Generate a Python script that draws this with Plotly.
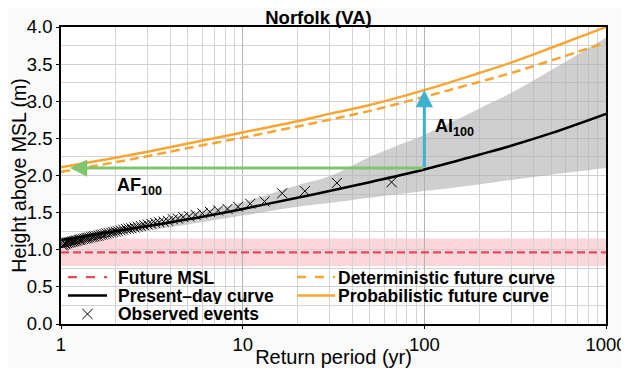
import math
import plotly.graph_objects as go

# ---------------- data ----------------
rp_grid = [1, 2, 3, 5, 10, 20, 30, 50, 100, 200, 300, 500, 1000]
present_day = [1.13, 1.25, 1.32, 1.41, 1.55, 1.70, 1.79, 1.91, 2.08, 2.28, 2.40, 2.57, 2.83]
present_lower = [1.10, 1.20, 1.26, 1.34, 1.46, 1.58, 1.63, 1.70, 1.79, 1.88, 1.94, 2.01, 2.10]
present_upper = [1.16, 1.28, 1.37, 1.48, 1.64, 1.87, 1.99, 2.25, 2.55, 2.90, 3.11, 3.42, 3.86]
probabilistic_future = [2.11, 2.24, 2.32, 2.43, 2.58, 2.73, 2.83, 2.95, 3.15, 3.38, 3.52, 3.72, 4.00]
deterministic_future = [2.05, 2.18, 2.26, 2.37, 2.51, 2.66, 2.75, 2.87, 3.06, 3.26, 3.38, 3.55, 3.79]

future_msl = 0.965
future_msl_low = 0.78
future_msl_high = 1.15

obs_rp = [66.0, 33.0, 22.0, 16.5, 13.2, 11.0, 9.43, 8.25, 7.33, 6.60, 6.00, 5.50, 5.08,
          4.71, 4.40, 4.13, 3.88, 3.67, 3.47, 3.30, 3.14, 3.00, 2.87, 2.75, 2.64, 2.54,
          2.44, 2.36, 2.28, 2.20, 2.13, 2.06, 2.00, 1.94, 1.89, 1.83, 1.78, 1.74, 1.69,
          1.65, 1.61, 1.57, 1.53, 1.50, 1.47, 1.43, 1.40, 1.38, 1.35, 1.32, 1.29, 1.27,
          1.25, 1.22, 1.20, 1.18, 1.16, 1.14, 1.12, 1.10, 1.08, 1.06, 1.05, 1.03, 1.02]
obs_height = [1.91, 1.90, 1.79, 1.76, 1.65, 1.62, 1.58, 1.55, 1.53, 1.51, 1.49, 1.47, 1.45,
              1.44, 1.42, 1.41, 1.39, 1.38, 1.37, 1.36, 1.35, 1.34, 1.33, 1.32, 1.31, 1.30,
              1.29, 1.285, 1.28, 1.27, 1.26, 1.25, 1.245, 1.24, 1.23, 1.225, 1.22, 1.21, 1.205,
              1.20, 1.19, 1.185, 1.18, 1.175, 1.17, 1.165, 1.16, 1.155, 1.15, 1.145, 1.14, 1.135,
              1.13, 1.125, 1.12, 1.115, 1.11, 1.105, 1.10, 1.095, 1.09, 1.085, 1.08, 1.07, 1.06]

ref_rp = 100
ref_present = 2.09
ref_future = 3.15
af_rp = 1.12  # return period reached by the future curve at present 100-yr level

x_ticks = [1, 10, 100, 1000]
x_ticktext = ["1", "10", "100", "1000"]
y_ticks = [0.0, 0.5, 1.0, 1.5, 2.0, 2.5, 3.0, 3.5, 4.0]
y_ticktext = ["0.0", "0.5", "1.0", "1.5", "2.0", "2.5", "3.0", "3.5", "4.0"]

legend_labels = ["Future MSL", "Deterministic future curve", "Present\u2013day curve",
                 "Probabilistic future curve", "Observed events"]

# ---------------- colors ----------------
ORANGE = "#f7a533"
RED = "#e8475b"
GREEN = "#80c46c"
BLUE = "#3db2cf"
FONT = "Liberation Sans, Arial, sans-serif"

fig = go.Figure()

# future MSL band
fig.add_shape(type="rect", xref="paper", yref="y", x0=0, x1=1,
              y0=future_msl_low, y1=future_msl_high,
              fillcolor="rgba(238,120,135,0.30)", line_width=0, layer="below")

# confidence band of present-day curve
fig.add_trace(go.Scatter(x=rp_grid, y=present_upper, mode="lines", line=dict(width=0, shape="spline"),
                         showlegend=False, hoverinfo="skip"))
fig.add_trace(go.Scatter(x=rp_grid, y=present_lower, mode="lines", line=dict(width=0, shape="spline"),
                         fill="tonexty", fillcolor="rgba(175,175,175,0.6)",
                         showlegend=False, hoverinfo="skip"))

fig.add_trace(go.Scatter(x=[rp_grid[0], rp_grid[-1]], y=[future_msl, future_msl], mode="lines",
                         line=dict(color=RED, width=2.2, dash="8px,4px"), name=legend_labels[0],
                         showlegend=False))
fig.add_trace(go.Scatter(x=rp_grid, y=deterministic_future, mode="lines",
                         line=dict(color=ORANGE, width=2.5, dash="9px,5px", shape="spline"),
                         name=legend_labels[1], showlegend=False))
fig.add_trace(go.Scatter(x=rp_grid, y=present_day, mode="lines",
                         line=dict(color="black", width=2.5, shape="spline"),
                         name=legend_labels[2], showlegend=False))
fig.add_trace(go.Scatter(x=rp_grid, y=probabilistic_future, mode="lines",
                         line=dict(color=ORANGE, width=2.5, shape="spline"),
                         name=legend_labels[3], showlegend=False))
fig.add_trace(go.Scatter(x=obs_rp, y=obs_height, mode="markers",
                         marker=dict(symbol="x-thin", size=10, line=dict(color="black", width=1)),
                         name=legend_labels[4], showlegend=False))

# arrows
fig.add_annotation(x=math.log10(af_rp), y=ref_present + 0.01, ax=math.log10(ref_rp), ay=ref_present + 0.01,
                   xref="x", yref="y", axref="x", ayref="y", text="", showarrow=True,
                   arrowhead=2, arrowsize=1.15, arrowwidth=3, arrowcolor=GREEN)
fig.add_annotation(x=math.log10(ref_rp), y=ref_future, ax=math.log10(ref_rp), ay=ref_present,
                   xref="x", yref="y", axref="x", ayref="y", text="", showarrow=True,
                   arrowhead=2, arrowsize=1.15, arrowwidth=3, arrowcolor=BLUE)

fig.add_annotation(x=math.log10(2.69), y=1.85, xref="x", yref="y", showarrow=False,
                   text="<b>AF<sub>100</sub></b>", font=dict(size=18, color="black", family=FONT))
fig.add_annotation(x=math.log10(146), y=2.64, xref="x", yref="y", showarrow=False,
                   text="<b>AI<sub>100</sub></b>", font=dict(size=18, color="black", family=FONT))

# ---------------- legend (drawn in plot-area fractions, two columns) ----------------
col_sym = [(0.0128, 0.0844), (0.433, 0.503)]
col_txt = [0.1028, 0.506]
row_y = [0.158, 0.096, 0.0337]
legend_styles = [
    dict(kind="line", color=RED, width=2.2, dash="dash"),
    dict(kind="line", color=ORANGE, width=2.5, dash="dash"),
    dict(kind="line", color="black", width=2.5, dash="solid"),
    dict(kind="line", color=ORANGE, width=2.5, dash="solid"),
    dict(kind="x"),
]
for i, (label, st) in enumerate(zip(legend_labels, legend_styles)):
    r, c = divmod(i, 2)
    yy = row_y[r]
    x0, x1 = col_sym[c]
    if st["kind"] == "line":
        fig.add_shape(type="line", xref="paper", yref="paper", x0=x0, x1=x1, y0=yy, y1=yy,
                      line=dict(color=st["color"], width=st["width"], dash=st["dash"]))
    else:
        xc = (x0 + x1) / 2
        dx, dy = 0.0095, 0.0172
        fig.add_shape(type="line", xref="paper", yref="paper", x0=xc - dx, x1=xc + dx,
                      y0=yy - dy, y1=yy + dy, line=dict(color="black", width=1))
        fig.add_shape(type="line", xref="paper", yref="paper", x0=xc - dx, x1=xc + dx,
                      y0=yy + dy, y1=yy - dy, line=dict(color="black", width=1))
    fig.add_annotation(x=col_txt[c], y=yy, xref="paper", yref="paper", showarrow=False,
                       xanchor="left", yanchor="middle", text="<b>%s</b>" % label,
                       font=dict(size=17.5, color="black", family=FONT), borderpad=0,
                       height=17, valign="middle")

# the page body has an 8px default margin, so the figure is 8px smaller and shifted
fig.update_layout(
    width=621, height=360,
    margin=dict(l=53, r=23, t=19, b=44, autoexpand=False),
    paper_bgcolor="#fafafa", plot_bgcolor="white",
    font=dict(family=FONT, size=16, color="black"),
    title=dict(text="<b>Norfolk (VA)</b>", x=0.5, xanchor="center", y=0.973, yanchor="middle",
               font=dict(size=18.5, family=FONT)),
    showlegend=False,
)

fig.update_xaxes(type="log", range=[0, 3], tickvals=x_ticks, ticktext=x_ticktext,
                 showgrid=True, gridcolor="#b4b4b4", gridwidth=1,
                 minor=dict(dtick="D1", showgrid=True, gridcolor="#d4d4d4", gridwidth=1,
                            ticks=""),
                 showline=True, linecolor="black", linewidth=1.5, mirror=True,
                 ticks="outside", ticklen=3, tickcolor="black", automargin=False,
                 tickfont=dict(size=18.5), zeroline=False,
                 title=dict(text="Return period (yr)", font=dict(size=20), standoff=0))
fig.update_yaxes(range=[0, 4], tickvals=y_ticks, ticktext=y_ticktext,
                 showgrid=True, gridcolor="#d0d0d0", gridwidth=1,
                 minor=dict(dtick=0.25, showgrid=True, gridcolor="#d4d4d4", gridwidth=1, ticks=""),
                 showline=True, linecolor="black", linewidth=1.5, mirror=True,
                 ticks="outside", ticklen=3, tickcolor="black", automargin=False,
                 tickfont=dict(size=18.5), zeroline=False,
                 title=dict(text="Height above MSL (m)", font=dict(size=19.5), standoff=0))

fig.write_html("out.html")
